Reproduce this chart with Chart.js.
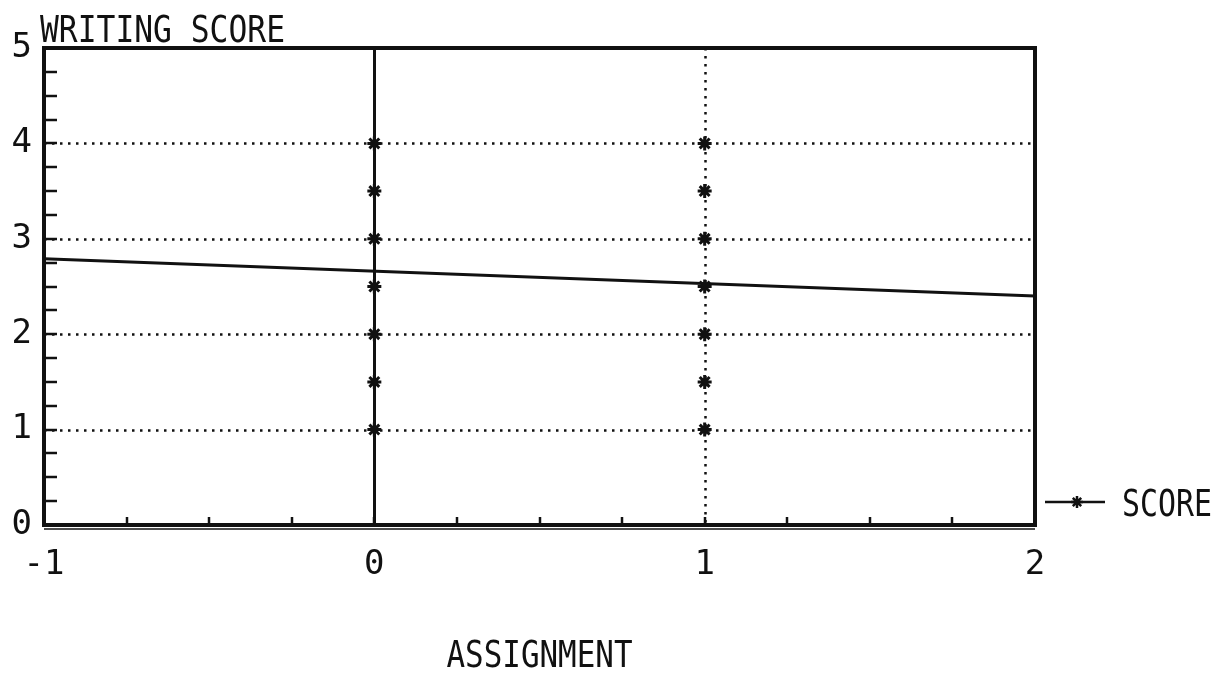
<!DOCTYPE html>
<html>
<head>
<meta charset="utf-8">
<script src="https://cdn.jsdelivr.net/npm/chart.js@4"></script>
<style>
  html, body { margin: 0; padding: 0; background: #fff; }
  canvas { display: block; }
</style>
</head>
<body>
<canvas id="c" width="1220" height="673"></canvas>
<script>
// ---- data ----
const seriesLabel = 'SCORE';
const assignments = [0, 0, 0, 0, 0, 0, 0, 1, 1, 1, 1, 1, 1, 1];
const scores      = [1, 1.5, 2, 2.5, 3, 3.5, 4, 1, 1.5, 2, 2.5, 3, 3.5, 4];
const fitX = [-1, 2];
const fitY = [2.79, 2.40];
const xTickValues = [-1, 0, 1, 2];
const yTickValues = [0, 1, 2, 3, 4, 5];
const gridYValues = [1, 2, 3, 4];
const solidXValues = [0];
const dottedXValues = [1];
const minorStep = 0.25;
const yTitle = 'WRITING SCORE';
const xTitle = 'ASSIGNMENT';

const FONT = '"DejaVu Sans Mono", "Liberation Mono", monospace';
const INK = '#111';

const scorePoints = assignments.map((a, i) => ({ x: a, y: scores[i] }));
const fitPoints = fitX.map((x, i) => ({ x: x, y: fitY[i] }));

// draw text squeezed to a target width (plotter-style narrow lettering)
function fitText(ctx, text, left, baseline, width) {
  const w = ctx.measureText(text).width;
  ctx.save();
  ctx.translate(left, baseline);
  ctx.scale(width / w, 1);
  ctx.textAlign = 'left';
  ctx.fillText(text, 0, 0);
  ctx.restore();
}

const decor = {
  id: 'decor',
  beforeDatasetsDraw(chart) {
    const { ctx, chartArea: a, scales: { x, y } } = chart;
    ctx.save();
    ctx.strokeStyle = INK;
    ctx.fillStyle = INK;
    ctx.lineWidth = 2.5;
    ctx.setLineDash([2.5, 5.5]);
    gridYValues.forEach(v => {
      const py = Math.round(y.getPixelForValue(v)) + 0.5;
      ctx.beginPath(); ctx.moveTo(a.left, py); ctx.lineTo(a.right, py); ctx.stroke();
    });
    dottedXValues.forEach(v => {
      const px = Math.round(x.getPixelForValue(v)) + 0.5;
      ctx.beginPath(); ctx.moveTo(px, a.top); ctx.lineTo(px, a.bottom); ctx.stroke();
    });
    ctx.setLineDash([]);
    ctx.lineWidth = 3;
    solidXValues.forEach(v => {
      const px = Math.round(x.getPixelForValue(v)) + 0.5;
      ctx.beginPath(); ctx.moveTo(px, a.top); ctx.lineTo(px, a.bottom); ctx.stroke();
    });
    ctx.lineWidth = 2.5;
    for (let v = y.min + minorStep; v < y.max - 1e-9; v += minorStep) {
      const py = Math.round(y.getPixelForValue(v));
      ctx.beginPath(); ctx.moveTo(a.left, py); ctx.lineTo(a.left + 13, py); ctx.stroke();
    }
    for (let v = x.min + minorStep; v < x.max - 1e-9; v += minorStep) {
      const px = Math.round(x.getPixelForValue(v));
      ctx.beginPath(); ctx.moveTo(px, a.bottom); ctx.lineTo(px, a.bottom - 8); ctx.stroke();
    }
    ctx.restore();
  },
  afterDraw(chart) {
    const { ctx, chartArea: a } = chart;
    ctx.save();
    ctx.strokeStyle = INK;
    ctx.lineWidth = 4;
    ctx.strokeRect(a.left, a.top, a.right - a.left, a.bottom - a.top);
    ctx.lineWidth = 1.5;
    ctx.beginPath(); ctx.moveTo(a.left, a.bottom + 4); ctx.lineTo(a.right, a.bottom + 4); ctx.stroke();
    ctx.fillStyle = INK;
    ctx.font = '38px ' + FONT;
    ctx.textBaseline = 'alphabetic';
    fitText(ctx, yTitle, 40, 42, 245);
    const cxT = (a.left + a.right) / 2;
    fitText(ctx, xTitle, cxT - 93, 667, 186);
    const ly = 502;
    ctx.lineWidth = 2.5;
    ctx.beginPath(); ctx.moveTo(a.right + 10, ly); ctx.lineTo(a.right + 70, ly); ctx.stroke();
    const r = 6;
    const cx = a.right + 42;
    ctx.beginPath();
    ctx.moveTo(cx - r, ly); ctx.lineTo(cx + r, ly);
    ctx.moveTo(cx, ly - r); ctx.lineTo(cx, ly + r);
    ctx.moveTo(cx - r * 0.7, ly - r * 0.7); ctx.lineTo(cx + r * 0.7, ly + r * 0.7);
    ctx.moveTo(cx - r * 0.7, ly + r * 0.7); ctx.lineTo(cx + r * 0.7, ly - r * 0.7);
    ctx.stroke();
    fitText(ctx, seriesLabel, a.right + 87, 516, 90);
    ctx.restore();
  }
};

new Chart(document.getElementById('c'), {
  type: 'scatter',
  data: {
    datasets: [
      {
        label: seriesLabel,
        data: scorePoints,
        pointStyle: 'star',
        pointRadius: 7,
        borderColor: INK,
        backgroundColor: INK,
        borderWidth: 3,
        showLine: false
      },
      {
        label: 'fit',
        type: 'line',
        data: fitPoints,
        pointRadius: 0,
        borderColor: INK,
        borderWidth: 3,
        fill: false,
        tension: 0
      }
    ]
  },
  options: {
    responsive: false,
    devicePixelRatio: 1,
    animation: false,
    layout: { padding: { top: 48, right: 185, left: 0, bottom: 0 } },
    plugins: { legend: { display: false }, tooltip: { enabled: false }, title: { display: false } },
    scales: {
      x: {
        type: 'linear',
        min: -1, max: 2,
        afterBuildTicks: s => { s.ticks = xTickValues.map(v => ({ value: v })); },
        afterFit: s => { s.height = 148; },
        grid: { display: false, drawTicks: false },
        border: { display: false },
        ticks: { color: INK, font: { family: FONT, size: 34 }, padding: 20 }
      },
      y: {
        type: 'linear',
        min: 0, max: 5,
        afterBuildTicks: s => { s.ticks = yTickValues.map(v => ({ value: v })); },
        afterFit: s => { s.width = 44; },
        grid: { display: false, drawTicks: false },
        border: { display: false },
        ticks: { color: INK, font: { family: FONT, size: 34 }, padding: 12 }
      }
    }
  },
  plugins: [decor]
});
</script>
</body>
</html>
